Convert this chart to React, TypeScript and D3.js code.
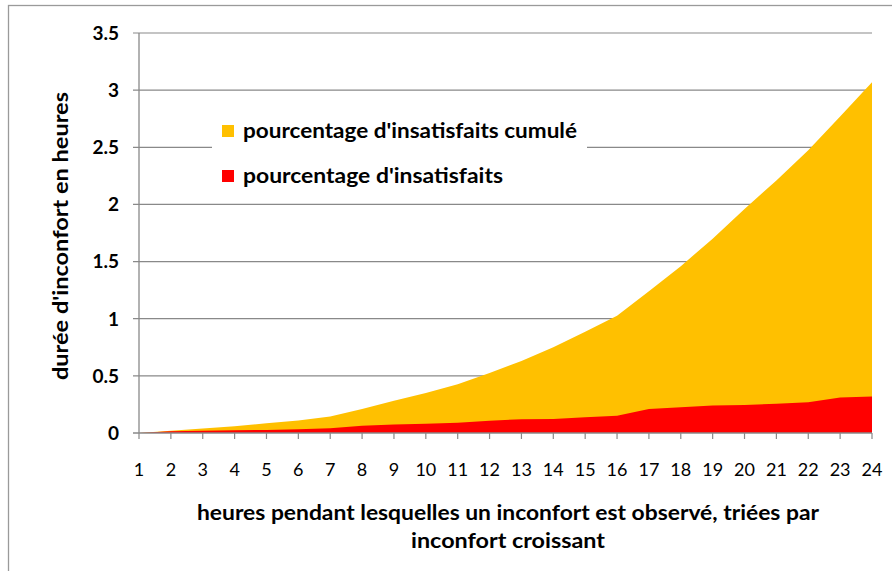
import React, { useEffect, useRef } from "react";
import * as d3 from "d3";

const hours = d3.range(1, 25);
const cumulated = [0, 0.02, 0.04, 0.06, 0.085, 0.11, 0.145, 0.21, 0.283, 0.35, 0.427, 0.525, 0.63, 0.75, 0.885, 1.025, 1.24, 1.46, 1.7, 1.96, 2.21, 2.475, 2.77, 3.07];
const unsatisfied = [0, 0.015, 0.02, 0.023, 0.027, 0.032, 0.042, 0.064, 0.075, 0.08, 0.09, 0.108, 0.12, 0.122, 0.137, 0.15, 0.21, 0.225, 0.24, 0.245, 0.256, 0.268, 0.31, 0.32];
const yTicks = [0, 0.5, 1, 1.5, 2, 2.5, 3, 3.5];
const legendLabels = ["pourcentage d'insatisfaits cumulé", "pourcentage d'insatisfaits"];
const colors = ["#FFC000", "#FF0000"];

const W = 892;
const H = 571;
const FONT = "Lato, 'Open Sans', sans-serif";

function Chart() {
  const ref = useRef<SVGSVGElement>(null);
  useEffect(() => {
    const svg = d3.select(ref.current);
    svg.selectAll("*").remove();

    const x = d3.scaleLinear().domain([1, 24]).range([139, 872]);
    const y = d3.scaleLinear().domain([0, 3.5]).range([433, 33]);
    const grey = "#898989";

    // outer frame
    svg.append("rect")
      .attr("x", 8.5).attr("y", 5.5).attr("width", 920).attr("height", 600)
      .attr("fill", "#fff").attr("stroke", "#9a9a9a").attr("stroke-width", 1.3);

    // grid + y ticks
    svg.append("g").selectAll("line").data(yTicks.filter((t) => t > 0)).join("line")
      .attr("x1", 133).attr("x2", 872)
      .attr("y1", (d) => y(d)).attr("y2", (d) => y(d))
      .attr("stroke", grey).attr("stroke-width", 1.2);

    const area = (vals: number[]) =>
      d3.area<number>().x((_, i) => x(hours[i])).y0(y(0)).y1((d) => y(d))(vals);

    svg.append("path").attr("d", area(cumulated)).attr("fill", colors[0]);
    svg.append("path").attr("d", area(unsatisfied)).attr("fill", colors[1]);

    // axes
    svg.append("line").attr("x1", x(1)).attr("x2", x(1)).attr("y1", y(3.5)).attr("y2", y(0))
      .attr("stroke", grey).attr("stroke-width", 1.3);
    svg.append("line").attr("x1", 133).attr("x2", x(24)).attr("y1", y(0)).attr("y2", y(0))
      .attr("stroke", grey).attr("stroke-width", 1.3);
    svg.append("g").selectAll("line").data(hours).join("line")
      .attr("x1", (d) => x(d)).attr("x2", (d) => x(d))
      .attr("y1", y(0)).attr("y2", y(0) + 6)
      .attr("stroke", grey).attr("stroke-width", 1.2);

    // y labels
    svg.append("g").selectAll("text").data(yTicks).join("text")
      .attr("x", 119).attr("y", (d) => y(d)).attr("dy", "0.36em")
      .attr("text-anchor", "end").attr("font-family", FONT).attr("font-weight", "bold")
      .attr("font-size", 19).text((d) => String(d));

    // x labels
    svg.append("g").selectAll("text").data(hours).join("text")
      .attr("x", (d) => x(d)).attr("y", 476)
      .attr("text-anchor", "middle").attr("font-family", FONT)
      .attr("font-size", 18).text((d) => String(d));

    // axis titles
    svg.append("text").attr("transform", "translate(68,236) rotate(-90)")
      .attr("text-anchor", "middle").attr("font-family", FONT).attr("font-weight", "bold")
      .attr("font-size", 20).attr("textLength", 288).attr("lengthAdjust", "spacingAndGlyphs")
      .text("durée d'inconfort en heures");
    svg.append("text").attr("x", 508).attr("y", 520)
      .attr("text-anchor", "middle").attr("font-family", FONT).attr("font-weight", "bold")
      .attr("font-size", 20).attr("textLength", 622).attr("lengthAdjust", "spacingAndGlyphs")
      .text("heures pendant lesquelles un inconfort est observé, triées par");
    svg.append("text").attr("x", 508).attr("y", 548)
      .attr("text-anchor", "middle").attr("font-family", FONT).attr("font-weight", "bold")
      .attr("font-size", 20).attr("textLength", 194).attr("lengthAdjust", "spacingAndGlyphs")
      .text("inconfort croissant");

    // legend
    const lg = svg.append("g");
    lg.append("rect").attr("x", 212).attr("y", 110).attr("width", 375).attr("height", 86).attr("fill", "#fff");
    const lengths = [334, 260];
    legendLabels.forEach((lab, i) => {
      const cy = 131 + i * 45;
      lg.append("rect").attr("x", 222).attr("y", cy - 6).attr("width", 12).attr("height", 12).attr("fill", colors[i]);
      lg.append("text").attr("x", 243).attr("y", cy).attr("dy", "0.35em")
        .attr("font-family", FONT).attr("font-weight", "bold").attr("font-size", 20)
        .attr("textLength", lengths[i]).attr("lengthAdjust", "spacingAndGlyphs")
        .text(lab);
    });
  }, []);

  return <svg ref={ref} width={W} height={H} style={{ display: "block" }} />;
}

export default function App() {
  return (
    <div style={{ position: "absolute", left: 0, top: 0 }}>
      <Chart />
    </div>
  );
}
